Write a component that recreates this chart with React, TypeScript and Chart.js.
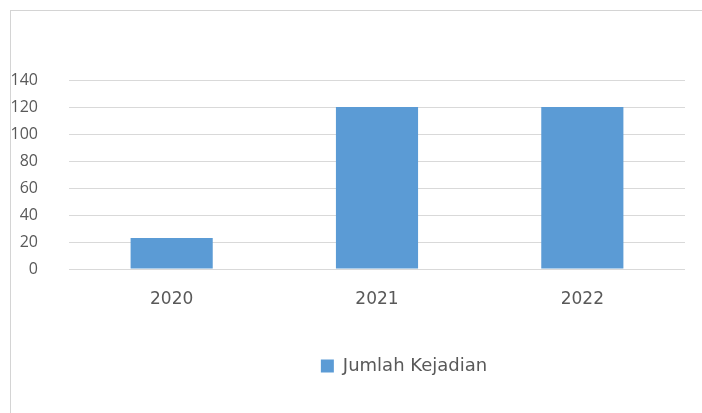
import React, { useEffect, useRef } from "react";
import { Chart, registerables } from "chart.js";

Chart.register(...registerables);

const categories = ["2020", "2021", "2022"];
const seriesLabel = "Jumlah Kejadian";
const seriesValues = [23, 120, 120];
const yTicks = [0, 20, 40, 60, 80, 100, 120, 140];

const legendShift = {
  id: "legendShift",
  afterLayout(chart: any) {
    if (chart.legend) {
      chart.legend.left += 56;
      chart.legend.right += 56;
    }
  },
};

export default function App() {
  const ref = useRef<HTMLCanvasElement | null>(null);
  useEffect(() => {
    if (!ref.current) return;
    const chart = new Chart(ref.current, {
      type: "bar",
      data: {
        labels: categories,
        datasets: [
          {
            label: seriesLabel,
            data: seriesValues,
            backgroundColor: "#5B9BD5",
            borderWidth: 0,
            categoryPercentage: 0.4,
            barPercentage: 1,
          },
        ],
      },
      plugins: [legendShift],
      options: {
        animation: false,
        responsive: false,
        layout: { padding: { top: 69, left: 0, right: 17, bottom: 28 } },
        plugins: {
          tooltip: { enabled: false },
          legend: {
            position: "bottom",
            labels: {
              color: "#595959",
              font: { family: "DejaVu Sans", size: 18 },
              boxWidth: 13,
              boxHeight: 13,
              padding: 10,
            },
          },
        },
        scales: {
          x: {
            grid: { display: false },
            border: { display: false },
            ticks: {
              color: "#595959",
              font: { family: "DejaVu Sans", size: 17 },
              padding: 12,
            },
            afterFit(scale: any) {
              scale.height = 78;
            },
          },
          y: {
            min: 0,
            max: 140,
            afterBuildTicks(scale: any) {
              scale.ticks = yTicks.map((v) => ({ value: v }));
            },
            grid: { color: "#d9d9d9", lineWidth: 1, drawTicks: false },
            border: { display: false },
            ticks: {
              color: "#595959",
              font: { family: "Open Sans", size: 16 },
              padding: 31,
            },
            afterFit(scale: any) {
              scale.width = 58;
            },
          },
        },
      },
    });
    return () => chart.destroy();
  }, []);
  return (
    <div
      style={{
        position: "fixed",
        left: 10,
        top: 10,
        width: 692,
        height: 403,
        borderLeft: "1px solid #d4d4d4",
        borderTop: "1px solid #d4d4d4",
        boxSizing: "border-box",
        background: "#fff",
      }}
    >
      <canvas ref={ref} width={691} height={402} style={{ display: "block" }} />
    </div>
  );
}
